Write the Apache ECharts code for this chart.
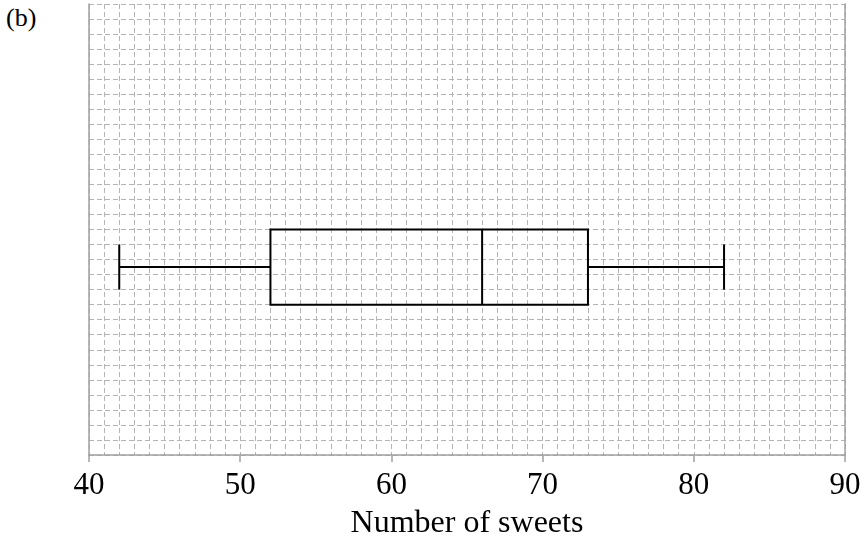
<!DOCTYPE html>
<html>
<head>
<meta charset="utf-8">
<script src="https://cdn.jsdelivr.net/npm/echarts@6/dist/echarts.min.js"></script>
<style>
  html, body { margin: 0; padding: 0; background: #fff; }
  #chart { width: 865px; height: 539px; }
  .tag { position: absolute; left: 6px; top: 3px; font-family: 'Liberation Serif', serif; font-size: 26px; line-height: 30px; color: #000; }
</style>
</head>
<body>
<div class="tag">(b)</div>
<div id="chart"></div>
<script>
// five-number summary: min, Q1, median, Q3, max
const boxStats = [42, 52, 66, 73, 82]
const xTicks = [40, 50, 60, 70, 80, 90]
const axisTitle = 'Number of sweets'

const chart = echarts.init(document.getElementById('chart'))
const gridColor = '#b4b4b4'
const font = 'Liberation Serif'

const option = {
  animation: false,
  grid: { left: 89, right: 20, top: 4, bottom: 84, outerBoundsMode: 'none', containLabel: false },
  xAxis: {
    type: 'value',
    min: xTicks[0],
    max: xTicks[xTicks.length - 1],
    interval: 10,
    axisLine: { show: true, lineStyle: { color: '#a0a0a0', width: 1.5 } },
    axisTick: { show: true, length: 7, lineStyle: { color: '#a0a0a0', width: 1.5 } },
    axisLabel: { color: '#000', fontFamily: font, fontSize: 31, margin: 15 },
    splitLine: { show: true, lineStyle: { color: gridColor, type: [5, 3], width: 1 } },
    minorTick: { show: false, splitNumber: 10 },
    minorSplitLine: { show: true, lineStyle: { color: gridColor, type: [5, 3], width: 1 } },
    name: axisTitle,
    nameLocation: 'middle',
    nameGap: 53,
    nameTextStyle: { color: '#000', fontFamily: font, fontSize: 32 }
  },
  yAxis: [
    {
      type: 'value', min: 0, max: 30, interval: 1,
      axisLine: { show: true, onZero: false, lineStyle: { color: '#a0a0a0', width: 1.5 } },
      axisTick: { show: false }, axisLabel: { show: false },
      splitLine: { show: true, lineStyle: { color: gridColor, type: [5, 3], width: 1 } }
    },
    {
      type: 'value', min: 0, max: 30, position: 'right',
      axisLine: { show: true, onZero: false, lineStyle: { color: '#a0a0a0', width: 1.5 } },
      axisTick: { show: false }, axisLabel: { show: false }, splitLine: { show: false }
    }
  ],
  series: [{
    type: 'custom',
    data: [boxStats],
    renderItem: (params, api) => {
      const [lo, q1, med, q3, hi] = [0, 1, 2, 3, 4].map(i => api.value(i))
      const yMid = 12.5, yBoxLo = 10, yBoxHi = 15, yCapLo = 11, yCapHi = 14
      const p = (x, y) => api.coord([x, y])
      const style = { stroke: '#000', lineWidth: 2, fill: null }
      const line = (a, b) => ({ type: 'line', shape: { x1: a[0], y1: a[1], x2: b[0], y2: b[1] }, style })
      const tl = p(q1, yBoxHi), br = p(q3, yBoxLo)
      return {
        type: 'group',
        children: [
          line(p(lo, yCapLo), p(lo, yCapHi)),
          line(p(hi, yCapLo), p(hi, yCapHi)),
          line(p(lo, yMid), p(q1, yMid)),
          line(p(q3, yMid), p(hi, yMid)),
          { type: 'rect', shape: { x: tl[0], y: tl[1], width: br[0] - tl[0], height: br[1] - tl[1] }, style },
          line(p(med, yBoxLo), p(med, yBoxHi))
        ]
      }
    }
  }]
}

chart.setOption(option)
</script>
</body>
</html>
